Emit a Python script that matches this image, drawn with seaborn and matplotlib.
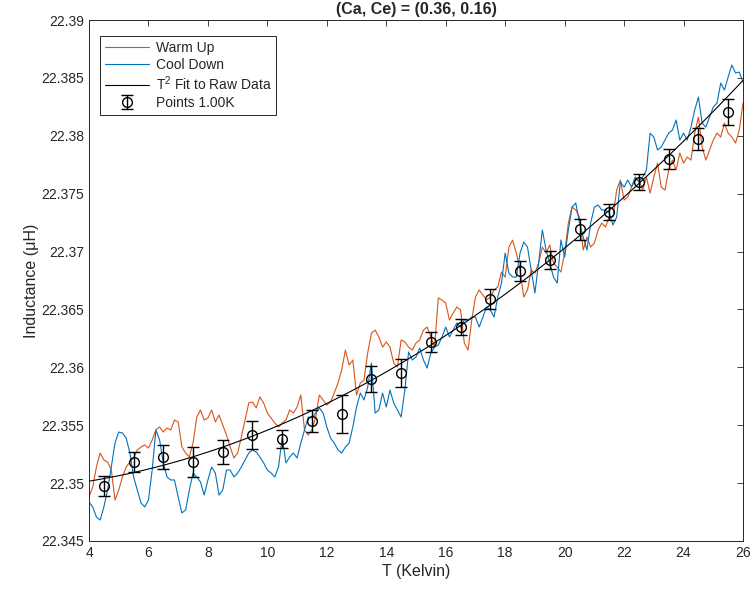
import numpy as np
import pandas as pd
import seaborn as sns
import matplotlib
matplotlib.use("Agg")
import matplotlib.pyplot as plt
from matplotlib.ticker import FuncFormatter

# raw sweeps (T in K, inductance in uH)
temps = [4.000, 4.125, 4.250, 4.375, 4.500, 4.625, 4.750, 4.875, 5.000, 5.125, 5.250, 5.375,
         5.500, 5.625, 5.750, 5.875, 6.000, 6.125, 6.250, 6.375, 6.500, 6.625, 6.750, 6.875,
         7.000, 7.125, 7.250, 7.375, 7.500, 7.625, 7.750, 7.875, 8.000, 8.125, 8.250, 8.375,
         8.500, 8.625, 8.750, 8.875, 9.000, 9.125, 9.250, 9.375, 9.500, 9.625, 9.750, 9.875,
         10.000, 10.125, 10.250, 10.375, 10.500, 10.625, 10.750, 10.875, 11.000, 11.125,
         11.250, 11.375, 11.500, 11.625, 11.750, 11.875, 12.000, 12.125, 12.250, 12.375,
         12.500, 12.625, 12.750, 12.875, 13.000, 13.125, 13.250, 13.375, 13.500, 13.625,
         13.750, 13.875, 14.000, 14.125, 14.250, 14.375, 14.500, 14.625, 14.750, 14.875,
         15.000, 15.125, 15.250, 15.375, 15.500, 15.625, 15.750, 15.875, 16.000, 16.125,
         16.250, 16.375, 16.500, 16.625, 16.750, 16.875, 17.000, 17.125, 17.250, 17.375,
         17.500, 17.625, 17.750, 17.875, 18.000, 18.125, 18.250, 18.375, 18.500, 18.625,
         18.750, 18.875, 19.000, 19.125, 19.250, 19.375, 19.500, 19.625, 19.750, 19.875,
         20.000, 20.125, 20.250, 20.375, 20.500, 20.625, 20.750, 20.875, 21.000, 21.125,
         21.250, 21.375, 21.500, 21.625, 21.750, 21.875, 22.000, 22.125, 22.250, 22.375,
         22.500, 22.625, 22.750, 22.875, 23.000, 23.125, 23.250, 23.375, 23.500, 23.625,
         23.750, 23.875, 24.000, 24.125, 24.250, 24.375, 24.500, 24.625, 24.750, 24.875,
         25.000, 25.125, 25.250, 25.375, 25.500, 25.625, 25.750, 25.875, 26.000]

warm_up = [22.34880, 22.34966, 22.35139, 22.35260, 22.35200, 22.35182, 22.35113, 22.34854,
           22.34940, 22.35053, 22.35139, 22.35182, 22.35217, 22.35286, 22.35312, 22.35329,
           22.35303, 22.35372, 22.35459, 22.35485, 22.35441, 22.35476, 22.35459, 22.35545,
           22.35528, 22.35312, 22.35260, 22.35225, 22.35346, 22.35571, 22.35631, 22.35545,
           22.35562, 22.35631, 22.35528, 22.35588, 22.35502, 22.35415, 22.35312, 22.35217,
           22.35260, 22.35398, 22.35545, 22.35692, 22.35700, 22.35649, 22.35744, 22.35692,
           22.35605, 22.35562, 22.35519, 22.35485, 22.35519, 22.35545, 22.35631, 22.35605,
           22.35657, 22.35761, 22.35459, 22.35415, 22.35459, 22.35571, 22.35761, 22.35718,
           22.35674, 22.35700, 22.35778, 22.35864, 22.35977, 22.36149, 22.36020, 22.36063,
           22.35761, 22.35864, 22.35890, 22.36124, 22.36296, 22.36322, 22.36262, 22.36175,
           22.36219, 22.36175, 22.36037, 22.36003, 22.36236, 22.36219, 22.36175, 22.36149,
           22.36210, 22.36236, 22.36322, 22.36348, 22.36262, 22.36175, 22.36599, 22.36581,
           22.36555, 22.36409, 22.36469, 22.36521, 22.36495, 22.36210, 22.36149, 22.36409,
           22.36607, 22.36668, 22.36624, 22.36581, 22.36607, 22.36668, 22.36694, 22.36823,
           22.36780, 22.37039, 22.37099, 22.36987, 22.36840, 22.36607, 22.36668, 22.36840,
           22.36814, 22.36901, 22.37039, 22.36987, 22.37056, 22.36901, 22.36866, 22.36823,
           22.36987, 22.37246, 22.37384, 22.37359, 22.37298, 22.37013, 22.37125, 22.37039,
           22.37074, 22.37186, 22.37246, 22.37212, 22.37298, 22.37298, 22.37531, 22.37618,
           22.37445, 22.37471, 22.37557, 22.37618, 22.37618, 22.37531, 22.37644, 22.37505,
           22.37644, 22.37764, 22.37557, 22.37531, 22.37704, 22.37790, 22.37704, 22.37851,
           22.37764, 22.37816, 22.37790, 22.38023, 22.38162, 22.37903, 22.37790, 22.37877,
           22.37963, 22.38023, 22.37989, 22.38110, 22.38023, 22.37989, 22.37937, 22.38049,
           22.38283]

cool_down = [22.34837, 22.34794, 22.34707, 22.34681, 22.34794, 22.34940, 22.35139, 22.35346,
             22.35441, 22.35433, 22.35390, 22.35260, 22.35053, 22.34940, 22.34828, 22.34794,
             22.34854, 22.35113, 22.35459, 22.35372, 22.35174, 22.35053, 22.35027, 22.35027,
             22.34880, 22.34742, 22.34768, 22.34940, 22.35087, 22.35053, 22.35010, 22.34897,
             22.35027, 22.35139, 22.35087, 22.34897, 22.34940, 22.35113, 22.35113, 22.35053,
             22.35087, 22.35139, 22.35200, 22.35260, 22.35286, 22.35269, 22.35225, 22.35174,
             22.35113, 22.35087, 22.35053, 22.35139, 22.35398, 22.35174, 22.35225, 22.35260,
             22.35217, 22.35346, 22.35459, 22.35571, 22.35562, 22.35605, 22.35649, 22.35605,
             22.35485, 22.35390, 22.35346, 22.35286, 22.35260, 22.35312, 22.35346, 22.35485,
             22.35657, 22.35778, 22.35718, 22.35830, 22.36037, 22.35605, 22.35631, 22.35778,
             22.35657, 22.35804, 22.35692, 22.35631, 22.35571, 22.35804, 22.36132, 22.36063,
             22.36089, 22.36167, 22.36063, 22.35994, 22.36124, 22.36175, 22.36193, 22.36262,
             22.36348, 22.36262, 22.36322, 22.36383, 22.36348, 22.36409, 22.36409, 22.36434,
             22.36434, 22.36348, 22.36434, 22.36521, 22.36495, 22.36434, 22.36607, 22.36728,
             22.36987, 22.36814, 22.36780, 22.36780, 22.36987, 22.37082, 22.37039, 22.36840,
             22.36642, 22.36901, 22.37186, 22.37013, 22.36901, 22.36780, 22.36728, 22.37100,
             22.36953, 22.37186, 22.37384, 22.37419, 22.37246, 22.37125, 22.37013, 22.37246,
             22.37384, 22.37402, 22.37359, 22.37359, 22.37333, 22.37229, 22.37298, 22.37600,
             22.37557, 22.37618, 22.37557, 22.37644, 22.37600, 22.37644, 22.37704, 22.38023,
             22.37989, 22.37877, 22.37903, 22.37963, 22.38023, 22.38049, 22.38136, 22.37963,
             22.38023, 22.37963, 22.38075, 22.38222, 22.38334, 22.38110, 22.38075, 22.38162,
             22.38248, 22.38283, 22.38455, 22.38395, 22.38507, 22.38611, 22.38542, 22.38550,
             22.38464]

# binned points (1.00 K)
pt_temps = [4.5, 5.5, 6.5, 7.5, 8.5, 9.5, 10.5, 11.5, 12.5, 13.5, 14.5,
            15.5, 16.5, 17.5, 18.5, 19.5, 20.5, 21.5, 22.5, 23.5, 24.5, 25.5]
pt_vals = [22.34975, 22.35182, 22.35225, 22.35182, 22.35269, 22.35415, 22.35381, 22.35536,
           22.35597, 22.35899, 22.35951, 22.36219, 22.36348, 22.36590, 22.36832, 22.36927,
           22.37194, 22.37341, 22.37600, 22.37799, 22.37972, 22.38205]
pt_err = [0.00090, 0.00087, 0.00100, 0.00130, 0.00105, 0.00120, 0.00080, 0.00094,
          0.00160, 0.00110, 0.00120, 0.00086, 0.00073, 0.00083, 0.00083, 0.00080,
          0.00090, 0.00072, 0.00068, 0.00090, 0.00098, 0.00115]

sns.set_theme(style="white")
plt.rcParams['font.family'] = ['Liberation Sans', 'DejaVu Sans']
plt.rcParams['mathtext.fontset'] = 'custom'
plt.rcParams['mathtext.rm'] = 'Liberation Sans'
plt.rcParams['mathtext.it'] = 'Liberation Sans:italic'

# T^2 fit to both raw sweeps
t_all = np.array(temps + temps)
v_all = np.array(warm_up + cool_down)
A = np.column_stack([np.ones_like(t_all), t_all ** 2])
coef, *_ = np.linalg.lstsq(A, v_all, rcond=None)
t_fit = np.linspace(4, 26, 200)
fit = pd.DataFrame({'T': t_fit, 'L': coef[0] + coef[1] * t_fit ** 2})

fig = plt.figure(figsize=(7.51, 5.96), dpi=100)
ax = fig.add_axes([89 / 751, 55 / 596, 654 / 751, 521 / 596])

sns.lineplot(x=temps, y=warm_up, color='#D95319', lw=0.8, label='Warm Up', ax=ax)
sns.lineplot(x=temps, y=cool_down, color='#0072BD', lw=0.8, label='Cool Down', ax=ax)
sns.lineplot(data=fit, x='T', y='L', color='black', lw=0.8,
             label=r'$\mathregular{T^2}$ Fit to Raw Data', ax=ax)
ax.errorbar(pt_temps, pt_vals, yerr=pt_err, fmt='o', color='black', mfc='none',
            ms=7, mew=1.0, elinewidth=1.0, capsize=4, capthick=1.0,
            label='Points 1.00K', zorder=5)

ax.set_xlim(4, 26)
ax.set_ylim(22.345, 22.39)
ax.set_xticks(np.arange(4, 27, 2))
ax.set_yticks(np.arange(22.345, 22.3901, 0.005))
ax.yaxis.set_major_formatter(FuncFormatter(lambda v, p: f"{round(v, 3):g}"))
ax.tick_params(direction='in', top=True, right=True, length=4, width=0.6,
               labelsize=10, colors='#262626')
for s in ax.spines.values():
    s.set_color('#262626')
    s.set_linewidth(0.7)

ax.set_xlabel('T (Kelvin)', fontsize=11.5, color='#262626', labelpad=3)
ax.set_ylabel('Inductance (μH)', fontsize=11.5, color='#262626', labelpad=2)
ax.set_title('(Ca, Ce) = (0.36, 0.16)', fontsize=11.5, fontweight='bold', pad=4)

leg = ax.legend(loc='upper left', bbox_to_anchor=(11 / 654, 1 - 16 / 521),
                borderaxespad=0, fontsize=10, fancybox=False, framealpha=1,
                edgecolor='#262626', handlelength=3.2, handletextpad=0.45,
                labelspacing=0.2, borderpad=0.35)
leg.get_frame().set_linewidth(0.7)

fig.savefig('out.png', dpi=100)
